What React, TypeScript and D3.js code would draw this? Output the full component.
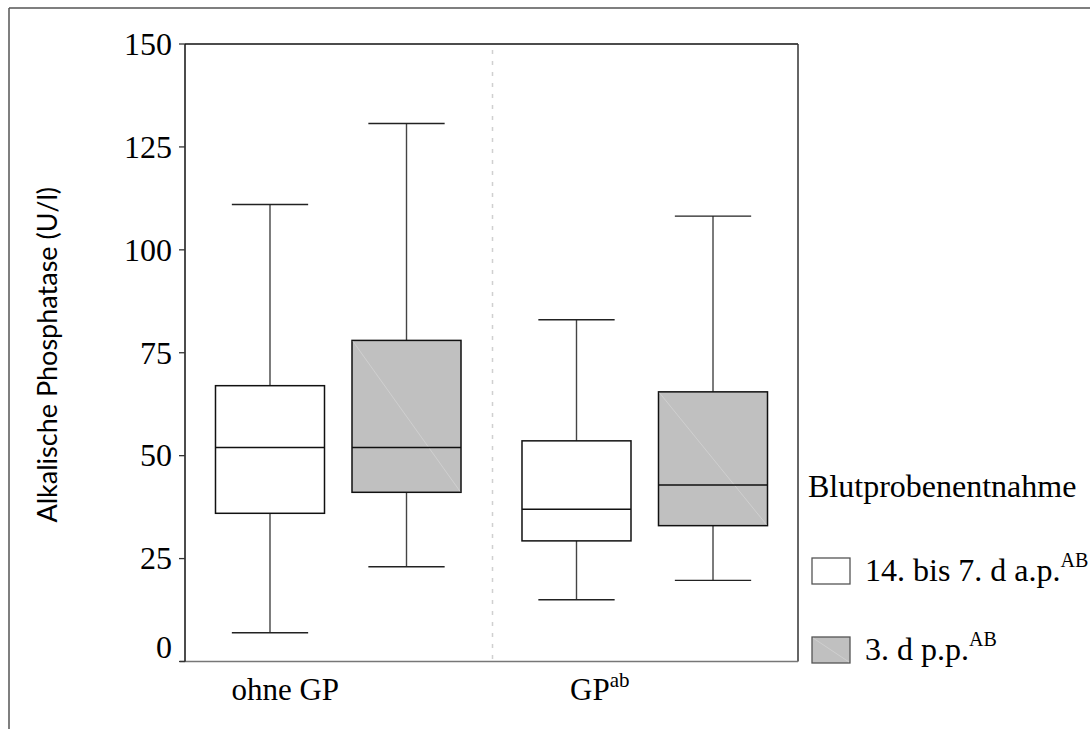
import React from "react";
import * as d3 from "d3";

// Groups along the x axis and the two sampling times
const groups = ["ohne GP", "GP"];
const groupSup = ["", "ab"];
const seriesNames = ["14. bis 7. d a.p.", "3. d p.p."];
const seriesSup = ["AB", "AB"];
const seriesFill = ["#ffffff", "#c0c0c0"];

// Box statistics per group (ohne GP, GP), one array per sampling time
const minS1 = [7, 15];
const q1S1 = [36, 29.3];
const medS1 = [52, 37];
const q3S1 = [67, 53.6];
const maxS1 = [111, 83];

const minS2 = [23, 19.7];
const q1S2 = [41.1, 33];
const medS2 = [52, 42.9];
const q3S2 = [78, 65.5];
const maxS2 = [130.7, 108.2];

const yTicks = [0, 25, 50, 75, 100, 125, 150];

const W = 1090;
const H = 729;
const plot = { left: 185, right: 798, top: 44, bottom: 661.5 };

const serif = "'Liberation Serif', 'Times New Roman', serif";
const sans = "Lato, 'Open Sans', sans-serif";

export default function App() {
  const y = d3.scaleLinear().domain([0, 150]).range([plot.bottom, plot.top]);
  const gx = d3.scaleBand().domain(groups).range([plot.left, plot.right]);
  const sx = d3
    .scaleBand()
    .domain(seriesNames)
    .range([0, gx.bandwidth()])
    .paddingInner(0.2015)
    .paddingOuter(0.2234);

  const stats = [
    { min: minS1, q1: q1S1, med: medS1, q3: q3S1, max: maxS1 },
    { min: minS2, q1: q1S2, med: medS2, q3: q3S2, max: maxS2 },
  ];

  const boxes: any[] = [];
  groups.forEach((g, gi) => {
    seriesNames.forEach((s, si) => {
      const st = stats[si];
      boxes.push({
        key: g + s,
        x0: (gx(g) as number) + (sx(s) as number),
        w: sx.bandwidth(),
        min: st.min[gi],
        q1: st.q1[gi],
        med: st.med[gi],
        q3: st.q3[gi],
        max: st.max[gi],
        fill: seriesFill[si],
        grey: si === 1,
      });
    });
  });

  const sepX = gx(groups[1]) as number;

  const legendX = 812;
  const legendItemsY = [558, 637];

  return (
    <svg
      width={W}
      height={H}
      style={{ position: "absolute", left: 0, top: 0, background: "#fff" }}
    >
      {/* outer frame */}
      <line x1={9} y1={8} x2={W} y2={8} stroke="#555" strokeWidth={1.5} />
      <line x1={9} y1={8} x2={9} y2={H} stroke="#555" strokeWidth={1.5} />

      {/* group separator */}
      <line
        x1={sepX + 1}
        x2={sepX + 1}
        y1={plot.top + 6}
        y2={plot.bottom}
        stroke="#d0d0d0"
        strokeWidth={1.5}
        strokeDasharray="4 7"
      />

      {/* plot frame */}
      <line x1={plot.left} y1={plot.top} x2={plot.right} y2={plot.top} stroke="#111" strokeWidth={1.5} />
      <line x1={plot.right} y1={plot.top} x2={plot.right} y2={plot.bottom} stroke="#333" strokeWidth={1.5} />
      <line x1={plot.left - 5} y1={plot.bottom} x2={plot.right} y2={plot.bottom} stroke="#777" strokeWidth={1.6} />
      <line x1={plot.left} y1={plot.top} x2={plot.left} y2={plot.bottom} stroke="#111" strokeWidth={1.5} />

      {/* y ticks */}
      {yTicks.map((t) => (
        <g key={t}>
          <line x1={plot.left - 6} x2={plot.left} y1={y(t)} y2={y(t)} stroke="#333" strokeWidth={1.3} />
          <text
            x={plot.left - 13}
            y={y(t) + (t === 0 ? -4 : 10.8)}
            textAnchor="end"
            fontFamily={serif}
            fontSize={32}
            fill="#000"
          >
            {t}
          </text>
        </g>
      ))}

      {/* y axis title */}
      <text
        transform={`translate(57, ${(plot.top + plot.bottom) / 2 + 2}) rotate(-90)`}
        textAnchor="middle"
        fontFamily={sans}
        fontSize={27}
        fill="#000"
      >
        Alkalische Phosphatase (U/l)
      </text>

      {/* boxes */}
      {boxes.map((b) => {
        const cx = b.x0 + b.w / 2;
        const capW = b.w * 0.7;
        return (
          <g key={b.key}>
            <line x1={cx} x2={cx} y1={y(b.max)} y2={y(b.q3)} stroke="#444" strokeWidth={1.4} />
            <line x1={cx} x2={cx} y1={y(b.q1)} y2={y(b.min)} stroke="#444" strokeWidth={1.4} />
            <line x1={cx - capW / 2} x2={cx + capW / 2} y1={y(b.max)} y2={y(b.max)} stroke="#222" strokeWidth={1.4} />
            <line x1={cx - capW / 2} x2={cx + capW / 2} y1={y(b.min)} y2={y(b.min)} stroke="#222" strokeWidth={1.4} />
            <rect
              x={b.x0}
              y={y(b.q3)}
              width={b.w}
              height={y(b.q1) - y(b.q3)}
              fill={b.fill}
              stroke="#111"
              strokeWidth={1.5}
            />
            {b.grey && (
              <line
                x1={b.x0 + 1}
                y1={y(b.q3) + 1}
                x2={b.x0 + b.w - 1}
                y2={y(b.q1) - 1}
                stroke="#d6d6d6"
                strokeWidth={0.7}
              />
            )}
            <line x1={b.x0} x2={b.x0 + b.w} y1={y(b.med)} y2={y(b.med)} stroke="#111" strokeWidth={1.5} />
          </g>
        );
      })}

      {/* x labels */}
      {groups.map((g, gi) => (
        <text
          key={g}
          x={(gx(g) as number) + gx.bandwidth() / 2 - (gi === 0 ? 53 : 45)}
          y={700}
          textAnchor="middle"
          fontFamily={serif}
          fontSize={31}
          fill="#000"
        >
          {g}
          {groupSup[gi] && (
            <tspan fontSize={21} dy={-13}>
              {groupSup[gi]}
            </tspan>
          )}
        </text>
      ))}

      {/* legend */}
      <text x={808} y={497} fontFamily={serif} fontSize={32} fill="#000">
        Blutprobenentnahme
      </text>
      {seriesNames.map((s, si) => {
        const ly = legendItemsY[si];
        return (
          <g key={s}>
            <rect
              x={legendX}
              y={ly}
              width={38}
              height={26}
              fill={seriesFill[si]}
              stroke="#555"
              strokeWidth={1.3}
            />
            {si === 1 && (
              <line x1={legendX + 1} y1={ly + 1} x2={legendX + 37} y2={ly + 25} stroke="#d6d6d6" strokeWidth={0.7} />
            )}
            <text x={865} y={ly + 23} fontFamily={serif} fontSize={32} fill="#000">
              {s}
              <tspan fontSize={20} dy={-14}>
                {seriesSup[si]}
              </tspan>
            </text>
          </g>
        );
      })}
    </svg>
  );
}
